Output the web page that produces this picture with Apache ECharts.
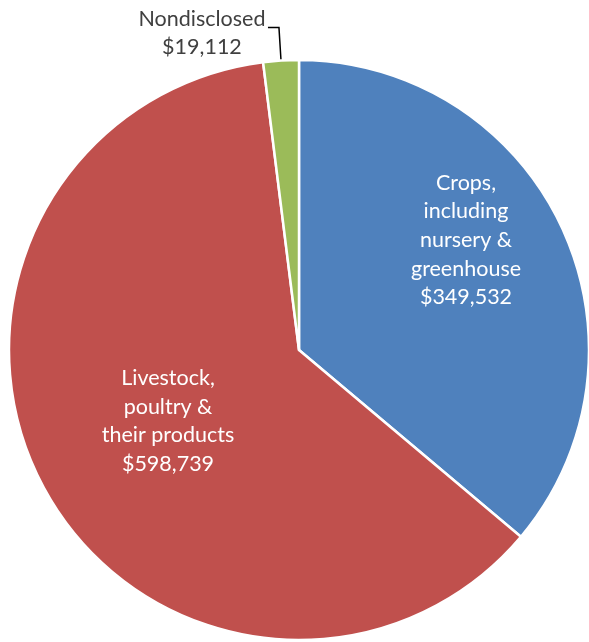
<!DOCTYPE html>
<html>
<head>
<meta charset="utf-8">
<script src="https://cdn.jsdelivr.net/npm/echarts@6/dist/echarts.min.js"></script>
<style>
html,body{margin:0;padding:0;background:#fff;}
#chart{width:589px;height:642px;}
</style>
</head>
<body>
<div id="chart"></div>
<script>
const categories = ['Crops,\nincluding\nnursery &\ngreenhouse', 'Livestock,\npoultry &\ntheir products', 'Nondisclosed'];
const values = [349532, 598739, 19112];
const colors = ['#4F81BD', '#C0504D', '#9BBB59'];

const chart = echarts.init(document.getElementById('chart'));
const fmt = v => '$' + v.toLocaleString('en-US');
const FONT = 'Lato';
const FS = 21.5;

const data = categories.map((name, i) => {
  const d = { name: name, value: values[i], itemStyle: { color: colors[i] } };
  if (i < 2) {
    d.label = {
      position: 'inside',
      color: '#ffffff',
      fontSize: FS,
      lineHeight: 28.7,
      fontFamily: FONT,
      align: 'center',
      formatter: p => p.name + '\n' + fmt(p.value)
    };
    d.labelLine = { show: false };
  } else {
    d.label = {
      position: 'outside',
      color: '#404040',
      fontFamily: FONT,
      padding: [11, 0, 0, 0],
      formatter: p => '{a|' + p.name + '}\n{a|' + fmt(p.value) + '}',
      rich: { a: { fontSize: FS, lineHeight: 28, width: 128, align: 'center', color: '#404040', fontFamily: FONT } }
    };
    d.labelLine = { show: true, length: 33, length2: 11, lineStyle: { color: '#000', width: 1.5 } };
  }
  return d;
});

const labelPos = [[466, 240], [168, 421]];

chart.setOption({
  animation: false,
  series: [{
    type: 'pie',
    center: [299, 350],
    radius: [0, 290],
    startAngle: 90,
    clockwise: true,
    avoidLabelOverlap: false,
    itemStyle: { borderColor: '#ffffff', borderWidth: 2.5 },
    label: { distanceToLabelLine: 2 },
    data: data,
    labelLayout: function (params) {
      if (params.dataIndex < 2) {
        return { x: labelPos[params.dataIndex][0], y: labelPos[params.dataIndex][1], align: 'center', verticalAlign: 'middle' };
      }
      return {};
    }
  }]
});
</script>
</body>
</html>
